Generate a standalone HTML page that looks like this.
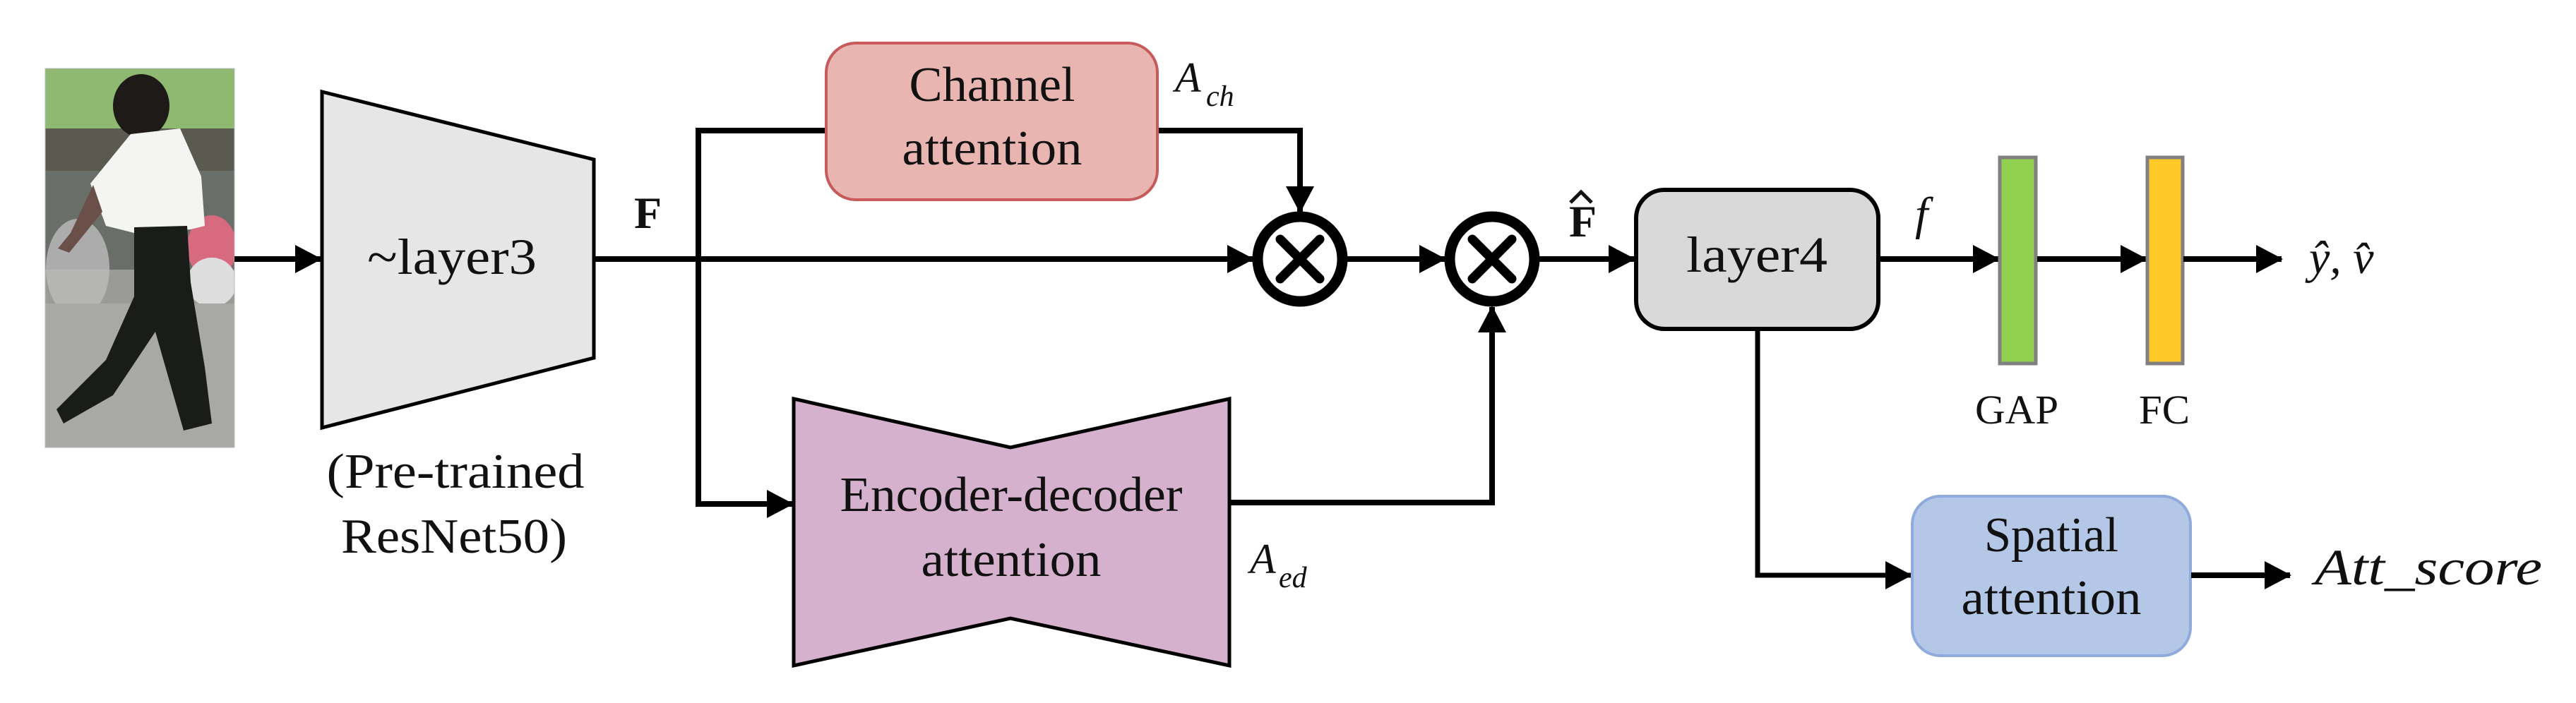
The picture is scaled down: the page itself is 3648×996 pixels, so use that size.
<!DOCTYPE html>
<html><head><meta charset="utf-8"><style>
html,body{margin:0;padding:0;background:#fff;}
svg{display:block;}
text{font-family:"Liberation Serif",serif;fill:#111;}
</style></head><body>
<svg width="3648" height="996" viewBox="0 0 3648 996" xmlns="http://www.w3.org/2000/svg">
<defs>
<marker id="ah" markerWidth="40" markerHeight="40" refX="36" refY="20" orient="auto" markerUnits="userSpaceOnUse">
<path d="M0,0 L38,20 L0,40 Z" fill="#000"/>
</marker>
<clipPath id="pc"><rect x="64" y="97" width="268" height="537"/></clipPath>
</defs>

<!-- photo -->
<g clip-path="url(#pc)">
<rect x="64" y="97" width="268" height="537" fill="#9a9a96"/>
<rect x="64" y="97" width="268" height="85" fill="#8fb870"/>
<rect x="64" y="182" width="268" height="60" fill="#5a5a50"/>
<rect x="64" y="242" width="268" height="140" fill="#6a6e68"/>
<ellipse cx="110" cy="380" rx="45" ry="70" fill="#bbb" opacity="0.8"/>
<ellipse cx="300" cy="350" rx="35" ry="45" fill="#d86a80"/>
<ellipse cx="300" cy="400" rx="35" ry="35" fill="#ddd"/>
<rect x="64" y="430" width="268" height="204" fill="#a8a8a4"/>
<ellipse cx="200" cy="150" rx="40" ry="45" fill="#1e1a18"/>
<path d="M185,190 L255,182 L285,250 L290,320 L270,325 L190,330 L150,320 L128,260 Z" fill="#f4f4f2"/>
<path d="M132,262 L100,330 L82,352 L98,358 L145,300 Z" fill="#6a5048"/>
<path d="M190,322 L265,320 L270,400 L290,520 L300,600 L260,610 L220,470 L160,560 L90,600 L80,580 L150,510 L190,420 Z" fill="#1a1c1a"/>
</g>
<rect x="64" y="97" width="268" height="537" fill="none" stroke="#bbb" stroke-width="1"/>

<line x1="332" y1="367" x2="454" y2="367" stroke="#000" stroke-width="8" marker-end="url(#ah)"/>

<polygon points="456,130 841,226 841,507 456,606" fill="#e6e6e6" stroke="#000" stroke-width="5"/>
<text x="640" y="388" font-size="72" text-anchor="middle" textLength="240" lengthAdjust="spacingAndGlyphs">~layer3</text>
<text x="645" y="691" font-size="70" text-anchor="middle" textLength="365" lengthAdjust="spacingAndGlyphs">(Pre-trained</text>
<text x="643" y="783" font-size="70" text-anchor="middle" textLength="320" lengthAdjust="spacingAndGlyphs">ResNet50)</text>
<text x="898" y="323" font-size="64" font-weight="bold">F</text>

<line x1="841" y1="367" x2="1774" y2="367" stroke="#000" stroke-width="8" marker-end="url(#ah)"/>
<polyline points="1169,185 989,185 989,714 1122,714" fill="none" stroke="#000" stroke-width="8" marker-end="url(#ah)"/>

<polyline points="1640,185 1841,185 1841,300" fill="none" stroke="#000" stroke-width="8" marker-end="url(#ah)"/>
<rect x="1170" y="61" width="469" height="222" rx="42" fill="#e9b5b0" stroke="#c75b5b" stroke-width="4"/>
<text x="1405" y="143" font-size="70" text-anchor="middle" textLength="235" lengthAdjust="spacingAndGlyphs">Channel</text>
<text x="1405" y="233" font-size="70" text-anchor="middle" textLength="255" lengthAdjust="spacingAndGlyphs">attention</text>
<text x="1664" y="130" font-size="60" font-style="italic">A</text>
<text x="1708" y="150" font-size="42" font-style="italic">ch</text>

<polyline points="1741,712 2113,712 2113,435" fill="none" stroke="#000" stroke-width="8" marker-end="url(#ah)"/>
<polygon points="1124,565 1431,634 1741,565 1741,943 1431,876 1124,943" fill="#d5b1cd" stroke="#000" stroke-width="5"/>
<text x="1432" y="724" font-size="70" text-anchor="middle" textLength="485" lengthAdjust="spacingAndGlyphs">Encoder-decoder</text>
<text x="1432" y="816" font-size="70" text-anchor="middle" textLength="255" lengthAdjust="spacingAndGlyphs">attention</text>
<text x="1770" y="812" font-size="60" font-style="italic">A</text>
<text x="1811" y="832" font-size="42" font-style="italic">ed</text>

<g stroke="#000" fill="#fff">
<circle cx="1841" cy="367" r="60" stroke-width="15"/>
<circle cx="2113" cy="367" r="60" stroke-width="15"/>
</g>
<g stroke="#000" stroke-width="13" stroke-linecap="round">
<line x1="1813" y1="339" x2="1869" y2="395"/><line x1="1869" y1="339" x2="1813" y2="395"/>
<line x1="2085" y1="339" x2="2141" y2="395"/><line x1="2141" y1="339" x2="2085" y2="395"/>
</g>
<line x1="1908" y1="367" x2="2046" y2="367" stroke="#000" stroke-width="8" marker-end="url(#ah)"/>
<line x1="2180" y1="367" x2="2314" y2="367" stroke="#000" stroke-width="8" marker-end="url(#ah)"/>
<text x="2222" y="335" font-size="64" font-weight="bold">F</text>
<path d="M2224,287 L2239,272 L2254,287" fill="none" stroke="#111" stroke-width="5"/>

<polyline points="2489,467 2489,815 2706,815" fill="none" stroke="#000" stroke-width="7" marker-end="url(#ah)"/>
<rect x="2317" y="269" width="343" height="197" rx="40" fill="#d9d9d9" stroke="#000" stroke-width="6"/>
<text x="2488" y="385" font-size="72" text-anchor="middle" textLength="200" lengthAdjust="spacingAndGlyphs">layer4</text>
<text x="2712" y="325" font-size="66" font-style="italic">f</text>

<line x1="2661" y1="367" x2="2830" y2="367" stroke="#000" stroke-width="8" marker-end="url(#ah)"/>
<rect x="2832" y="223" width="51" height="292" fill="#92d050" stroke="#808080" stroke-width="5"/>
<line x1="2885" y1="367" x2="3039" y2="367" stroke="#000" stroke-width="8" marker-end="url(#ah)"/>
<rect x="3041" y="223" width="50" height="292" fill="#ffca28" stroke="#808080" stroke-width="5"/>
<line x1="3092" y1="367" x2="3231" y2="367" stroke="#000" stroke-width="8" marker-end="url(#ah)"/>
<text x="3270" y="387" font-size="66" font-style="italic">ŷ, v̂</text>
<text x="2856" y="600" font-size="58" text-anchor="middle" textLength="118" lengthAdjust="spacingAndGlyphs">GAP</text>
<text x="3065" y="600" font-size="58" text-anchor="middle" textLength="72" lengthAdjust="spacingAndGlyphs">FC</text>

<rect x="2708" y="703" width="394" height="226" rx="40" fill="#b4c7e7" stroke="#8faadc" stroke-width="4"/>
<text x="2905" y="781" font-size="70" text-anchor="middle" textLength="190" lengthAdjust="spacingAndGlyphs">Spatial</text>
<text x="2905" y="870" font-size="70" text-anchor="middle" textLength="255" lengthAdjust="spacingAndGlyphs">attention</text>
<line x1="3103" y1="815" x2="3243" y2="815" stroke="#000" stroke-width="8" marker-end="url(#ah)"/>
<text x="3278" y="828" font-size="72" font-style="italic" textLength="322" lengthAdjust="spacingAndGlyphs">Att_score</text>
</svg>
</body></html>
